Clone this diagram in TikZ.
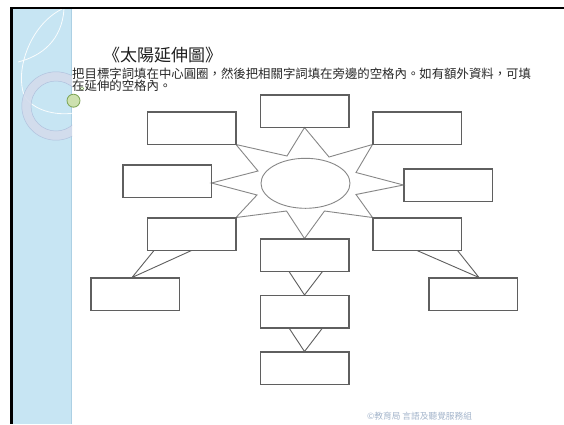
\documentclass[tikz,border=0pt]{standalone}
\usepackage{fontspec}
\newfontfamily\cjk{Noto Sans CJK TC}
\usetikzlibrary{calc,shapes.geometric}
\definecolor{panel}{RGB}{199,229,243}
\definecolor{panedge}{RGB}{172,208,228}
\definecolor{ringc}{RGB}{212,220,236}
\definecolor{ringe}{RGB}{176,194,222}
\definecolor{boxc}{RGB}{95,95,95}
\definecolor{starc}{RGB}{135,135,135}
\definecolor{footc}{RGB}{165,182,204}
\definecolor{titlec}{RGB}{30,30,30}
\definecolor{textc}{RGB}{40,40,40}
\definecolor{greenf}{RGB}{205,225,175}
\definecolor{greene}{RGB}{125,165,85}
\begin{document}
\begin{tikzpicture}[x=1pt,y=-1pt,
  box/.style={draw=boxc,line width=1pt,minimum width=88pt,minimum height=32pt,inner sep=0pt,fill=white},
  starline/.style={draw=starc,line width=0.9pt,line join=miter},
  extline/.style={draw=boxc,line width=0.9pt},
  decoarc/.style={draw=white,line width=0.8pt,opacity=0.9},
  txt/.style={inner sep=0pt,anchor=base west,text=textc}]
\useasboundingbox (0,0) rectangle (564,424);
\fill[white] (0,0) rectangle (564,424);
% side panel
\fill[panel] (13,9) rectangle (72,424);
\fill[panedge] (70.5,9) rectangle (72,424);
\begin{scope}
  \clip (13,9) rectangle (72,424);
  \draw[decoarc] (62,9) .. controls (30,25) and (15,70) .. (24,95) .. controls (32,110) and (55,116) .. (74,113);
  \draw[decoarc] (64,9) .. controls (62,40) and (42,56) .. (18,62);
  \fill[ringc,opacity=0.9,even odd rule] (56,106) circle[radius=34.2] (56,106) circle[radius=25];
  \draw[ringe,line width=0.5pt] (56,106) circle[radius=34.2] (56,106) circle[radius=25];
\end{scope}
% frame
\fill[black] (10,7) rectangle (564,9.3);
\fill[black] (10,7) rectangle (13.3,424);
% small green circles
\draw[greene,fill=greenf,line width=0.8pt] (73.5,100.7) circle[radius=6.5];
\draw[greene,line width=0.5pt] (82,88.5) circle[radius=1.8];
% title and instructions
\node[txt,text=titlec,font=\cjk\fontsize{17}{17}\selectfont] (title) at (103,61) {《太陽延伸圖》};
\node[txt,font=\cjk\fontsize{12.4}{12.4}\selectfont] (line1) at (72,78) {把目標字詞填在中心圓圈，然後把相關字詞填在旁邊的空格內。如有額外資料，可填};
\node[txt,font=\cjk\fontsize{12.4}{12.4}\selectfont] (line2) at (72,90) {在延伸的空格內。};
\node[txt,text=footc,font=\cjk\fontsize{8.7}{8.7}\selectfont] (foot) at (367,419) {©教育局 言語及聽覺服務組};
% star inner vertices
\coordinate (i1) at (329,157);
\coordinate (i2) at (356,172.5);
\coordinate (i3) at (356,194.5);
\coordinate (i4) at (324.5,211);
\coordinate (i5) at (286.5,211);
\coordinate (i6) at (257,195);
\coordinate (i7) at (258,171);
\coordinate (i8) at (287,156);
% boxes
\node[box] (t)  at (304.5,111) {};
\node[box] (ul) at (191.5,128) {};
\node[box] (ur) at (417,128) {};
\node[box] (l)  at (167,181) {};
\node[box] (r)  at (448,185) {};
\node[box] (ll) at (191.5,234) {};
\node[box] (lr) at (417,234) {};
\node[box] (c1) at (304.5,255) {};
\node[box] (c2) at (304.5,311.5) {};
\node[box] (c3) at (304.5,368) {};
\node[box] (fl) at (135,294) {};
\node[box] (fr) at (473,294) {};
% star
\draw[starline] (t.south) -- (i1) -- (ur.south west) -- (i2) -- (r.west) -- (i3)
  -- (lr.north west) -- (i4) -- (c1.north) -- (i5) -- (ll.north east) -- (i6)
  -- ($(l.east)+(0,2)$) -- (i7) -- (ul.south east) -- (i8) -- cycle;
\node[draw=starc,line width=0.9pt,ellipse,minimum width=89pt,minimum height=50pt,inner sep=0pt] (sun) at (305.5,183.3) {};
% extensions
\draw[extline] ($(ll.south west)+(7,0)$) -- ($(fl.north)+(-3,0)$) -- (ll.south);
\draw[extline] (lr.south) -- ($(fr.north)+(6,0)$) -- ($(lr.south east)+(-4,0)$);
\draw[extline] ($(c1.south)+(-15.5,0)$) -- (c2.north) -- ($(c1.south)+(18,0)$);
\draw[extline] ($(c2.south)+(-15.5,0)$) -- (c3.north) -- ($(c2.south)+(18,0)$);
% box borders on top
\foreach \b in {t,ul,ur,l,r,ll,lr,c1,c2,c3,fl,fr}{\draw[boxc,line width=1pt] (\b.north west) rectangle (\b.south east);}
\end{tikzpicture}
\end{document}
